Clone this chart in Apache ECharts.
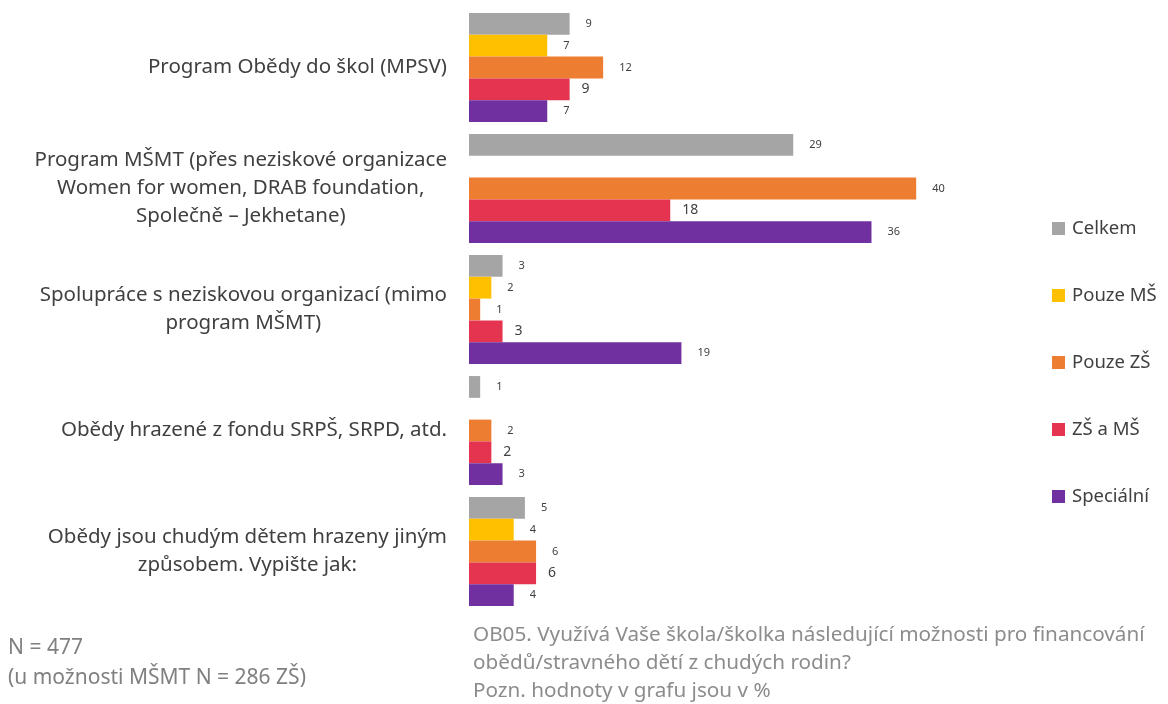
<!DOCTYPE html>
<html>
<head>
<meta charset="utf-8">
<script src="https://cdn.jsdelivr.net/npm/echarts@6/dist/echarts.min.js"></script>
<style>
  html, body { margin: 0; padding: 0; background: #fff; }
  #main { width: 1168px; height: 704px; }
</style>
</head>
<body>
<div id="main"></div>
<script>
// kategorie (odpovědi)
var categories = [
  'Program Obědy do škol (MPSV)',
  'Program MŠMT (přes neziskové organizace\nWomen for women, DRAB foundation,\nSpolečně – Jekhetane)',
  'Spolupráce s neziskovou organizací (mimo\nprogram MŠMT)',
  'Obědy hrazené z fondu SRPŠ, SRPD, atd.',
  'Obědy jsou chudým dětem hrazeny jiným\nzpůsobem. Vypište jak:'
];
var seriesNames = ['Celkem', 'Pouze MŠ', 'Pouze ZŠ', 'ZŠ a MŠ', 'Speciální'];
var celkem    = [9, 29, 3, 1, 5];
var pouzeMS   = [7, null, 2, null, 4];
var pouzeZS   = [12, 40, 1, 2, 6];
var zsAms     = [9, 18, 3, 2, 6];
var specialni = [7, 36, 19, 3, 4];
var colors = ['#a5a5a5', '#ffc000', '#ed7d31', '#e5344f', '#7030a0'];

var font = 'Noto Sans';
var myChart = echarts.init(document.getElementById('main'));

function makeSeries(name, data, idx) {
  return {
    name: name,
    type: 'bar',
    data: data,
    barGap: '0%',
    barCategoryGap: '10%',
    itemStyle: { color: colors[idx] },
    label: {
      show: true,
      position: 'right',
      distance: idx === 3 ? 12 : 16,
      color: '#404040',
      fontFamily: font,
      fontSize: idx === 3 ? 14 : 11
    }
  };
}

myChart.setOption({
  animation: false,
  grid: { left: 469, right: 140, top: 7, bottom: 92 },
  xAxis: {
    type: 'value', min: 0, max: 50, show: false
  },
  yAxis: {
    type: 'category',
    inverse: true,
    data: categories,
    axisLine: { show: false },
    axisTick: { show: false },
    axisLabel: {
      margin: 22,
      align: 'right',
      color: '#404040',
      fontFamily: font,
      fontSize: 20.5,
      lineHeight: 28,
      formatter: function (v) {
        return v.split('\n').map(function (l) { return '{c|' + l + '}'; }).join('\n');
      },
      rich: { c: { align: 'center', fontFamily: font, fontSize: 20.5, lineHeight: 28, color: '#404040' } }
    }
  },
  legend: {
    orient: 'vertical',
    left: 1052,
    top: 219,
    padding: 0,
    itemGap: 48,
    itemWidth: 13,
    itemHeight: 13,
    icon: 'rect',
    data: seriesNames,
    textStyle: { fontFamily: font, fontSize: 18.5, color: '#404040', padding: [0, 0, 0, 2] }
  },
  series: [
    makeSeries(seriesNames[0], celkem, 0),
    makeSeries(seriesNames[1], pouzeMS, 1),
    makeSeries(seriesNames[2], pouzeZS, 2),
    makeSeries(seriesNames[3], zsAms, 3),
    makeSeries(seriesNames[4], specialni, 4)
  ],
  graphic: [
    {
      type: 'text', left: 8, top: 633,
      style: {
        text: 'N = 477\n(u možnosti MŠMT N = 286 ZŠ)',
        fontFamily: font, fontSize: 21, lineHeight: 30, fill: '#808080'
      }
    },
    {
      type: 'text', left: 473, top: 621,
      style: {
        text: 'OB05. Využívá Vaše škola/školka následující možnosti pro financování\nobědů/stravného dětí z chudých rodin?\nPozn. hodnoty v grafu jsou v %',
        fontFamily: font, fontSize: 20.7, lineHeight: 28, fill: '#8c8c8c'
      }
    }
  ]
});
</script>
</body>
</html>
